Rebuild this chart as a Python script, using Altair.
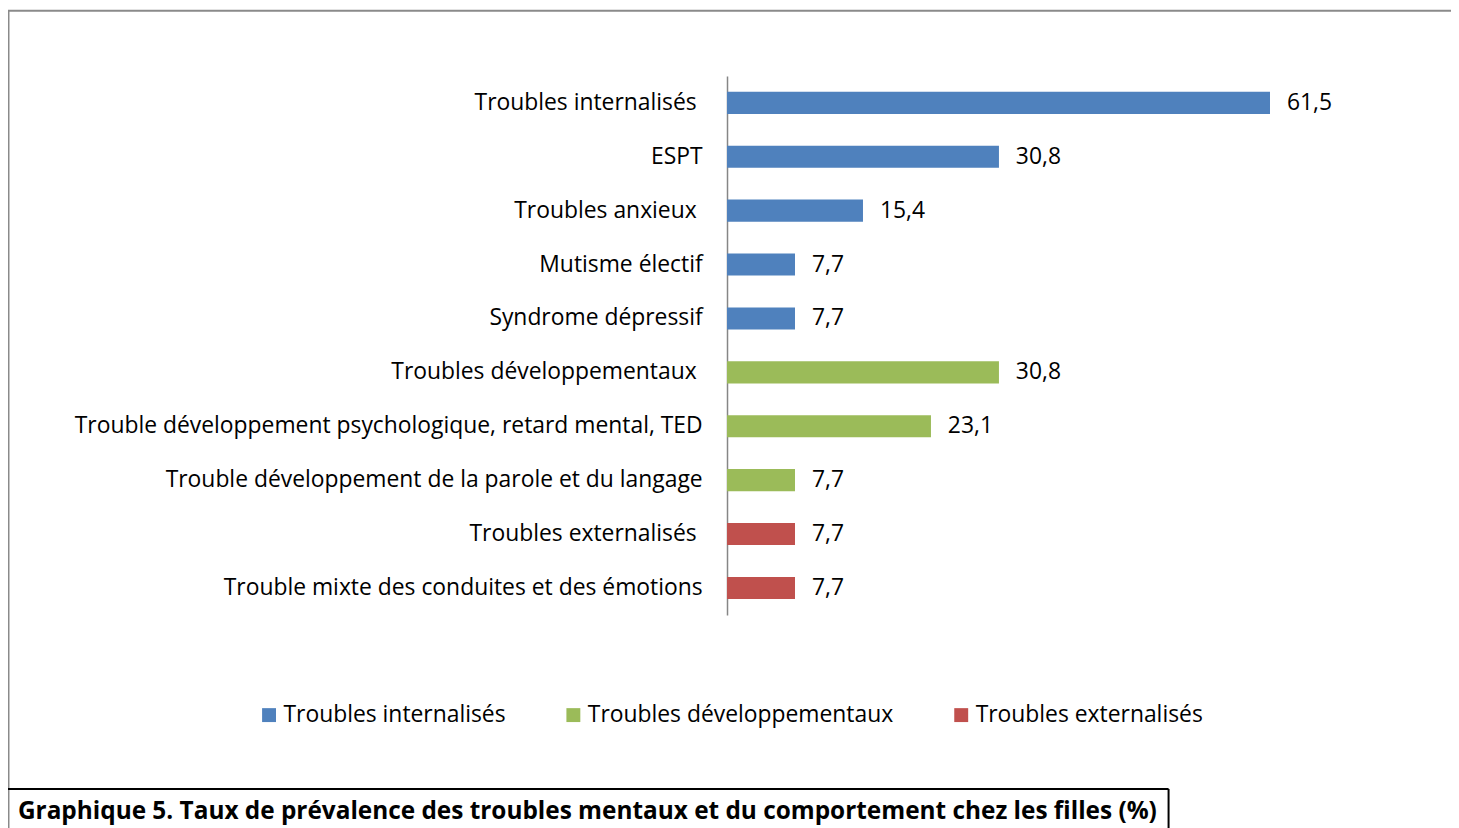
import altair as alt
import pandas as pd

categories = [
    "Troubles internalisés",
    "ESPT",
    "Troubles anxieux",
    "Mutisme électif",
    "Syndrome dépressif",
    "Troubles développementaux",
    "Trouble développement psychologique, retard mental, TED",
    "Trouble développement de la parole et du langage",
    "Troubles externalisés",
    "Trouble mixte des conduites et des émotions",
]
# labels that carry a trailing space in the original
trailing_space = ["Troubles internalisés", "Troubles anxieux", "Troubles développementaux", "Troubles externalisés"]
values = [61.5, 30.8, 15.4, 7.7, 7.7, 30.8, 23.1, 7.7, 7.7, 7.7]
groups = [
    "Troubles internalisés", "Troubles internalisés", "Troubles internalisés",
    "Troubles internalisés", "Troubles internalisés",
    "Troubles développementaux", "Troubles développementaux", "Troubles développementaux",
    "Troubles externalisés", "Troubles externalisés",
]
group_order = ["Troubles internalisés", "Troubles développementaux", "Troubles externalisés"]
group_colors = ["#4F81BD", "#9BBB59", "#C0504D"]
caption = "Graphique 5. Taux de prévalence des troubles mentaux et du comportement chez les filles (%)"

FONT = "Open Sans"
FS = 23

df = pd.DataFrame({"category": categories, "value": values, "group": groups})

base = alt.Chart(df).transform_calculate(
    label="replace(format(datum.value, '.1f'), '.', ',')"
)

ts_list = "[" + ",".join("'" + s + "'" for s in trailing_space) + "]"

y_enc = alt.Y(
    "category:N",
    sort=categories,
    scale=alt.Scale(paddingInner=0.59, paddingOuter=0.295),
    axis=alt.Axis(
        title=None, domainColor="#868686", domainWidth=1.5, ticks=False,
        labelFont=FONT, labelFontSize=FS, labelColor="black",
        labelPadding={"condition": {"test": f"indexof({ts_list}, datum.value) >= 0", "value": 31}, "value": 25},
        labelLimit=0, grid=False,
    ),
)
x_enc = alt.X("value:Q", scale=alt.Scale(domain=[0, 61.5], nice=False, zero=True), axis=None)

bars = base.mark_bar().encode(
    x=x_enc,
    y=y_enc,
    color=alt.Color(
        "group:N",
        scale=alt.Scale(domain=group_order, range=group_colors),
        legend=alt.Legend(
            title=None, orient="none", direction="horizontal", columns=3,
            legendX=-472, legendY=631, padding=0,
            symbolType="square", symbolSize=196, symbolStrokeWidth=0,
            labelFont=FONT, labelFontSize=FS, labelColor="black",
            labelOffset=3, columnPadding=56, labelLimit=0,
        ),
    ),
)

text = base.mark_text(align="left", baseline="middle", dx=17, font=FONT, fontSize=FS, color="black").encode(
    x=alt.X("value:Q"),
    y=alt.Y("category:N", sort=categories),
    text="label:N",
)

deco = alt.Chart(pd.DataFrame({"t": [caption]}))
border_top = deco.mark_rule(color="#8a8a8a", strokeWidth=2).encode(
    x=alt.value(-723), x2=alt.value(740), y=alt.value(-65.5)
)
border_left = deco.mark_rule(color="#8a8a8a", strokeWidth=2).encode(
    x=alt.value(-722.5), y=alt.value(-66), y2=alt.value(760)
)
cap_top = deco.mark_rule(color="black", strokeWidth=2).encode(
    x=alt.value(-723), x2=alt.value(444), y=alt.value(717)
)
cap_right = deco.mark_rule(color="black", strokeWidth=2).encode(
    x=alt.value(444), y=alt.value(717), y2=alt.value(760)
)
cap_text = deco.mark_text(align="left", baseline="alphabetic", font=FONT, fontSize=24.5,
                          fontWeight="bold", color="black").encode(
    x=alt.value(-713), y=alt.value(747), text="t:N"
)

chart = alt.layer(bars, text, border_top, border_left, cap_top, cap_right, cap_text).properties(
    width=546, height=542,
    autosize=alt.AutoSizeParams(type="none"),
    padding={"left": 723, "top": 66, "right": 182, "bottom": 212},
    background="white",
).configure_view(stroke=None)

chart.save("out.html", embed_options={"renderer": "svg", "actions": False})
